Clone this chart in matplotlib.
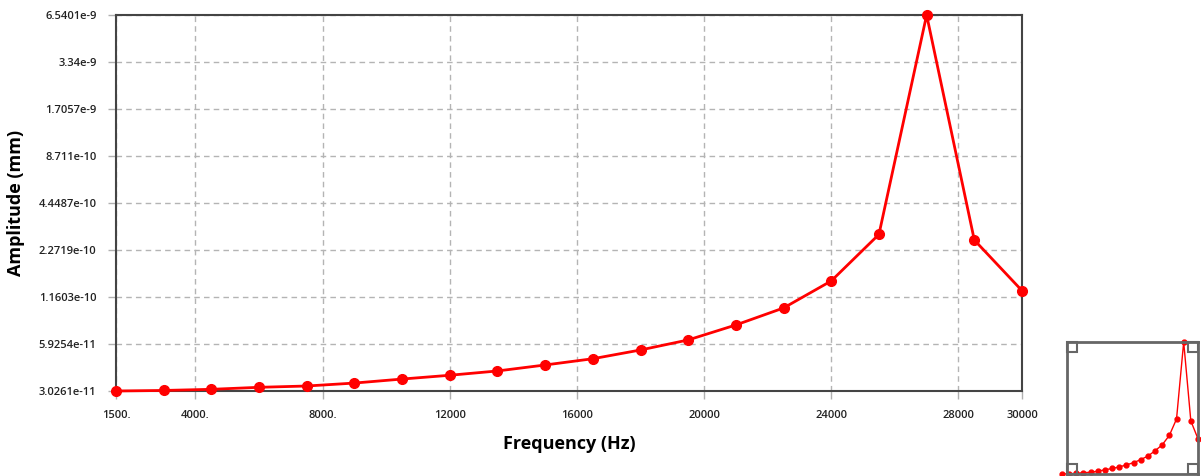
import matplotlib.pyplot as plt
from matplotlib.patches import Rectangle
from matplotlib.ticker import FixedLocator, NullLocator

# frequency sweep (Hz) and response amplitude (mm)
frequency = [1500, 3000, 4500, 6000, 7500, 9000, 10500, 12000, 13500, 15000,
             16500, 18000, 19500, 21000, 22500, 24000, 25500, 27000, 28500, 30000]
amplitude = [3.0261e-11, 3.05e-11, 3.10e-11, 3.19e-11, 3.25e-11, 3.39e-11,
             3.59e-11, 3.79e-11, 4.03e-11, 4.39e-11, 4.80e-11, 5.44e-11,
             6.28e-11, 7.78e-11, 9.92e-11, 1.46e-10, 2.84e-10, 6.5401e-9,
             2.62e-10, 1.27e-10]

x_ticks = [1500, 4000, 8000, 12000, 16000, 20000, 24000, 28000, 30000]
x_labels = ['1500.', '4000.', '8000.', '12000', '16000', '20000', '24000', '28000', '30000']
y_ticks = [3.0261e-11, 5.9254e-11, 1.1603e-10, 2.2719e-10, 4.4487e-10,
           8.711e-10, 1.7057e-9, 3.34e-9, 6.5401e-9]
y_labels = ['3.0261e-11', '5.9254e-11', '1.1603e-10', '2.2719e-10', '4.4487e-10',
            '8.711e-10', '1.7057e-9', '3.34e-9', '6.5401e-9']

plt.rcParams['font.family'] = ['Open Sans', 'DejaVu Sans']

W, H = 1201, 476


def px_rect(x0, y0, x1, y1):
    # pixel box (top-left origin) -> figure fraction rect
    return [x0 / W, 1 - y1 / H, (x1 - x0) / W, (y1 - y0) / H]


def main():
    fig = plt.figure(figsize=(W / 100, H / 100), dpi=100)
    ax = fig.add_axes(px_rect(116, 15, 1022, 391))

    ax.plot(frequency, amplitude, color='#ff0000', lw=2, marker='o', ms=7,
            mec='#ff0000', mfc='#ff0000', zorder=3, clip_on=False)
    ax.set_yscale('log')
    ax.set_xlim(1500, 30000)
    ax.set_ylim(y_ticks[0], y_ticks[-1])

    ax.xaxis.set_major_locator(FixedLocator(x_ticks))
    ax.set_xticklabels(x_labels)
    ax.yaxis.set_major_locator(FixedLocator(y_ticks))
    ax.yaxis.set_minor_locator(NullLocator())
    ax.set_yticklabels(y_labels)

    ax.tick_params(axis='both', length=6, width=1, color='#b0b0b0',
                   labelsize=8, labelcolor='#222222')
    ax.tick_params(axis='y', pad=8)
    ax.tick_params(axis='x', pad=8)
    for lbl in ax.get_xticklabels() + ax.get_yticklabels():
        lbl.set_fontweight('semibold')

    ax.grid(True, color='#b4b4b4', linestyle=(0, (4, 3)), linewidth=1)
    for s in ax.spines.values():
        s.set_color('#444444')
        s.set_linewidth(1.5)

    ax.set_xlabel('Frequency (Hz)', fontsize=13, fontweight='bold', labelpad=10)
    ax.set_ylabel('Amplitude (mm)', fontsize=13, fontweight='bold', labelpad=10)

    # small overview of the whole curve in the corner
    ov = fig.add_axes(px_rect(1067, 342, 1198, 474))
    ov.plot(frequency, amplitude, color='#ff0000', lw=1, marker='o', ms=3.5,
            mec='#ff0000', mfc='#ff0000', clip_on=False)
    ov.set_yscale('log')
    ov.set_xlim(2550, 30000)
    ov.set_ylim(y_ticks[0], y_ticks[-1])
    ov.set_xticks([])
    ov.set_yticks([])
    ov.yaxis.set_minor_locator(NullLocator())
    for s in ov.spines.values():
        s.set_color('#666666')
        s.set_linewidth(2)
    for cx, cy in [(1067, 342), (1188, 342), (1067, 464), (1188, 464)]:
        fig.patches.append(Rectangle((cx / W, 1 - (cy + 10) / H), 10 / W, 10 / H,
                                     transform=fig.transFigure, fill=False,
                                     edgecolor='#666666', linewidth=1.5))

    fig.savefig('out.png', dpi=100)


if __name__ == '__main__':
    main()
